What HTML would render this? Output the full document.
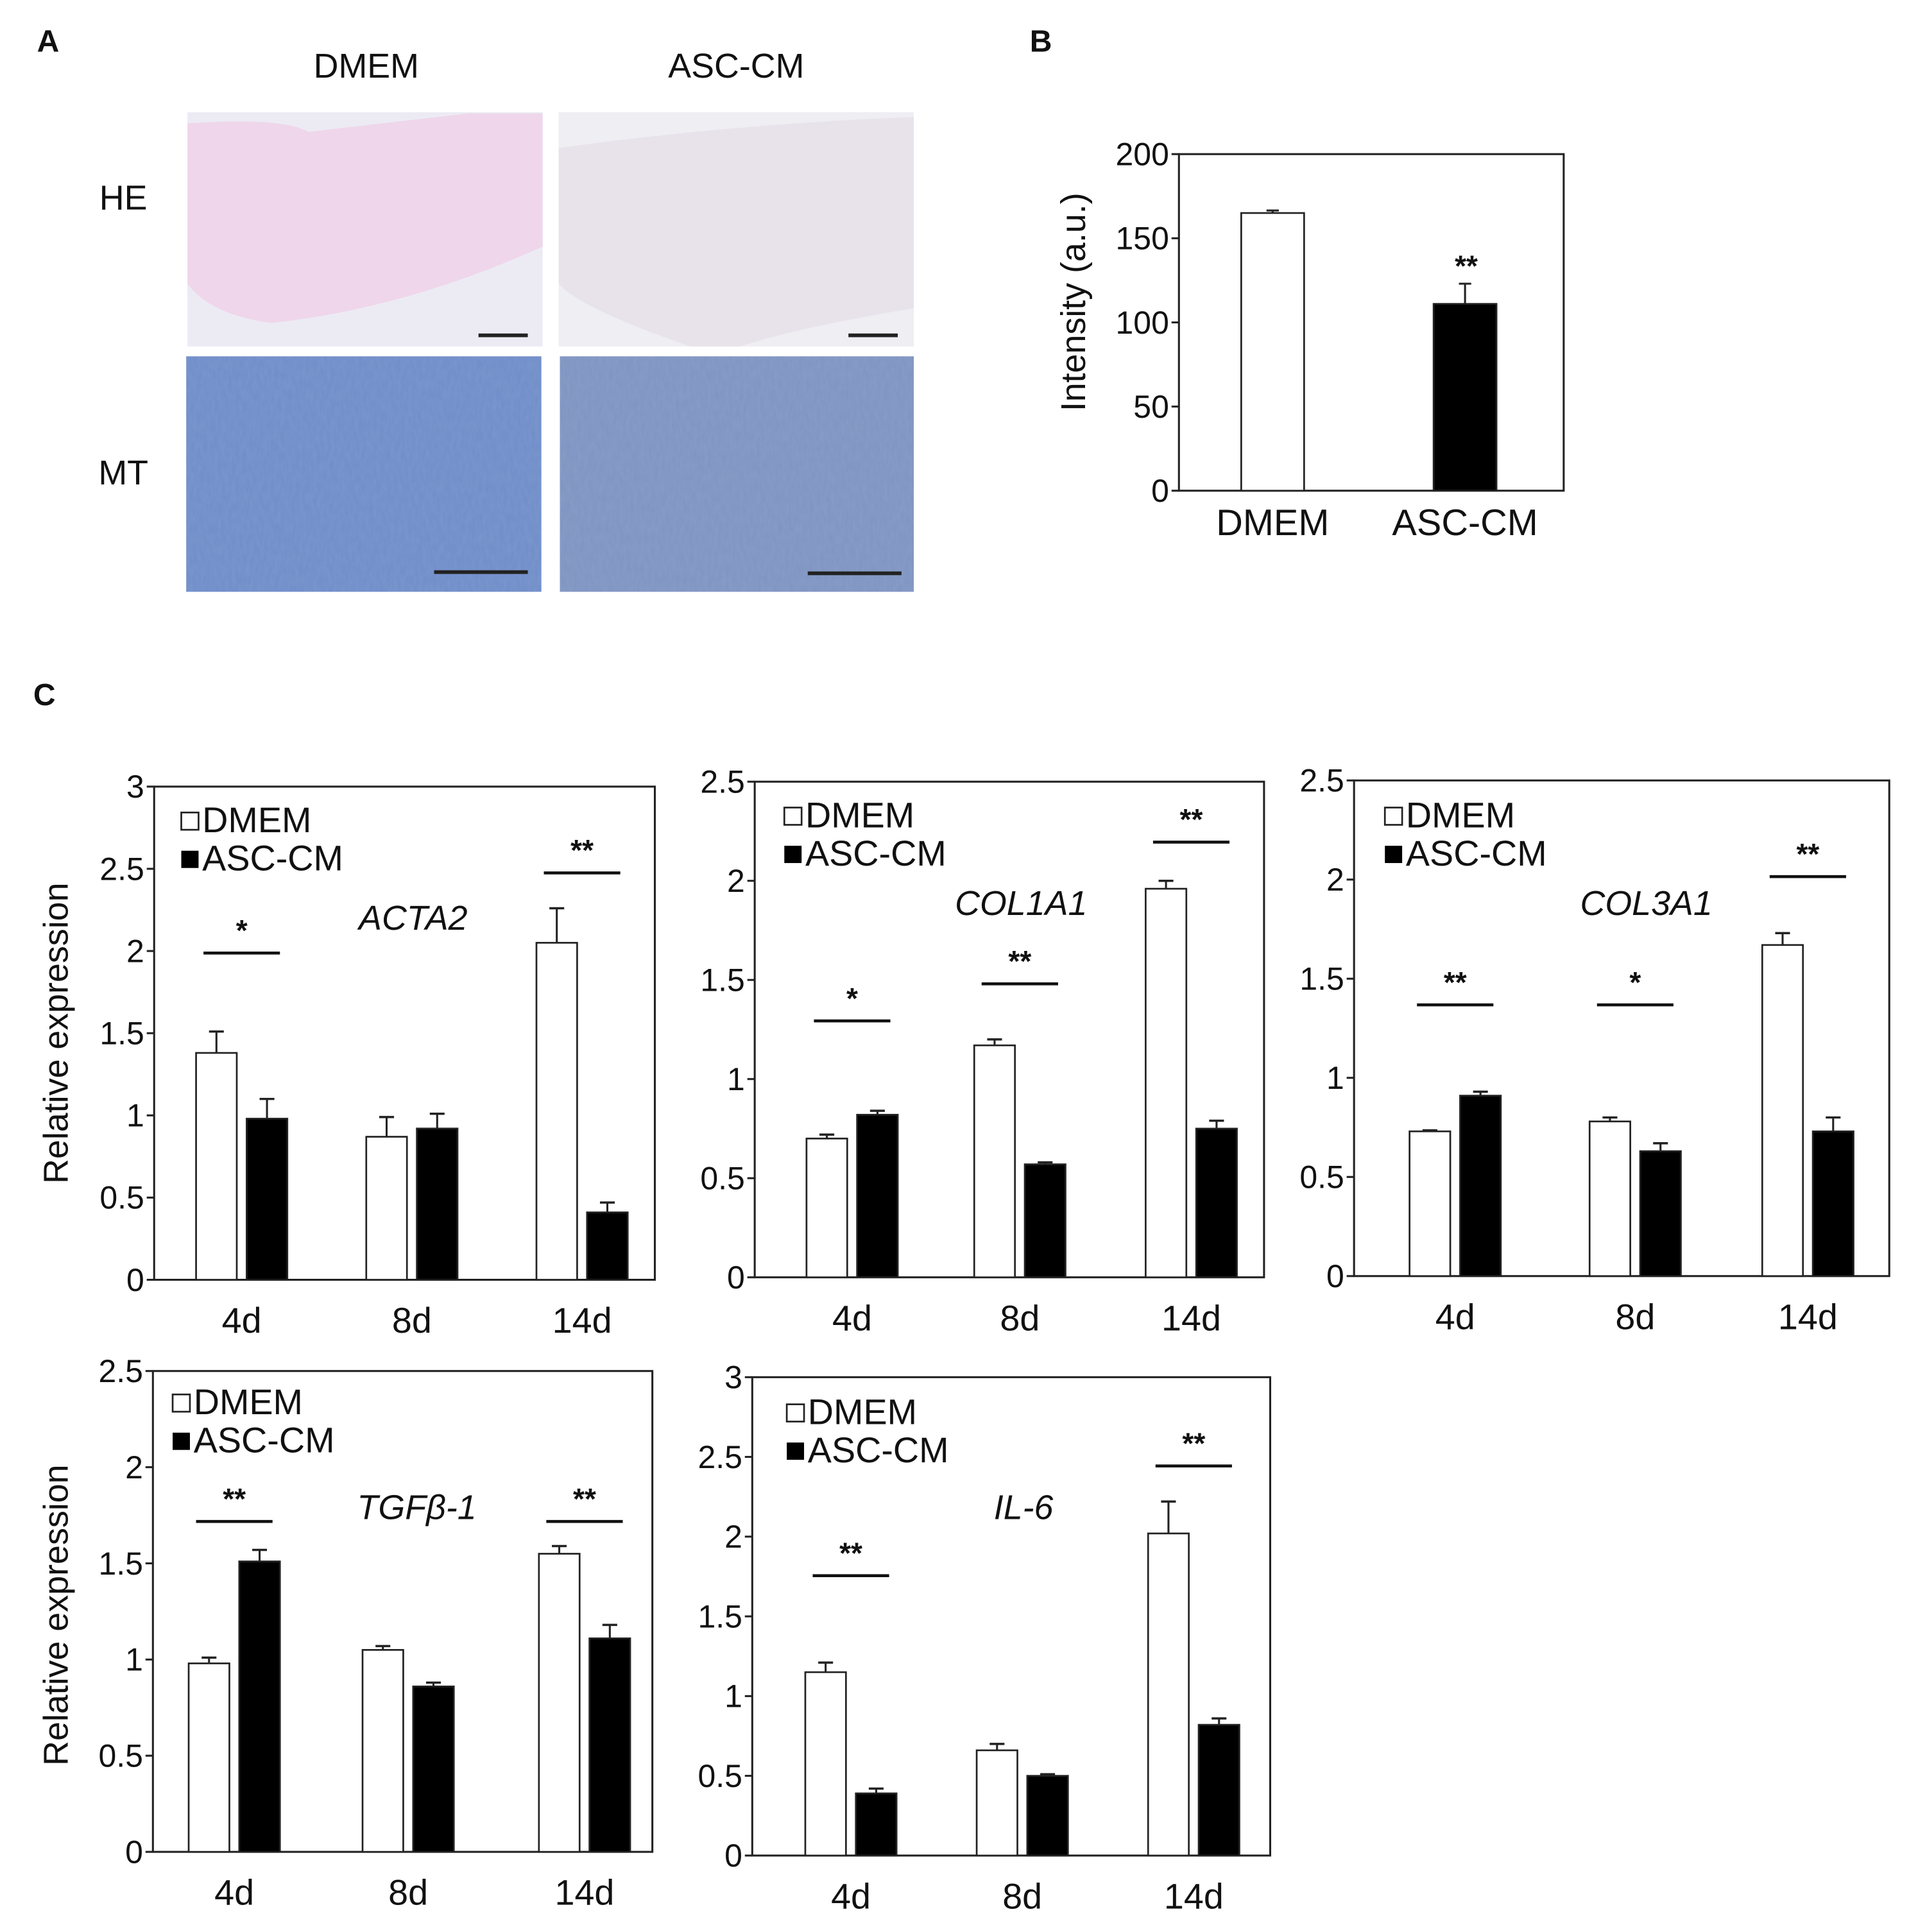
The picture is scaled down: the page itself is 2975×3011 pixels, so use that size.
<!DOCTYPE html>
<html><head><meta charset="utf-8"><style>
html,body{margin:0;padding:0;background:#fff}
svg{display:block}
text{font-family:"Liberation Sans",sans-serif;fill:#111}
</style></head><body>
<svg id="fig" width="2975" height="3011" viewBox="0 0 1548 1567" preserveAspectRatio="none" xmlns="http://www.w3.org/2000/svg">
<defs>
<filter id="tex" x="0" y="0" width="100%" height="100%">
<feTurbulence type="fractalNoise" baseFrequency="0.35 0.12" numOctaves="2" seed="3"/>
<feColorMatrix type="matrix" values="0 0 0 0 0.45  0 0 0 0 0.55  0 0 0 0 0.85  0 0 0 0.5 0"/>
<feComposite in2="SourceGraphic" operator="in"/>
</filter>
</defs>
<g id="panelA">
<text x="30" y="42" font-size="25" font-weight="bold">A</text>
<text x="297" y="63" font-size="28" text-anchor="middle">DMEM</text>
<text x="597" y="63" font-size="28" text-anchor="middle">ASC-CM</text>
<text x="100" y="170" font-size="28" text-anchor="middle">HE</text>
<text x="100" y="393" font-size="28" text-anchor="middle">MT</text>
<g>
<rect x="152" y="91" width="288" height="190" fill="#ecebf4"/>
<path d="M152,100 Q230,95 250,107 L380,92 L440,92 L440,200 Q330,250 220,262 Q170,255 152,230 Z" fill="#efd6ea"/>
</g>
<g>
<rect x="453" y="91" width="288" height="190" fill="#eeeef3"/>
<path d="M453,120 Q600,100 741,95 L741,250 Q650,265 600,281 L560,281 Q470,250 453,230 Z" fill="#e8e3ea"/>
</g>
<rect x="151" y="289" width="288" height="191" fill="#6f8dc8"/>
<rect x="151" y="289" width="288" height="191" fill="#fff" filter="url(#tex)" opacity="0.35"/>
<rect x="454" y="289" width="287" height="191" fill="#7f94c0"/>
<rect x="454" y="289" width="287" height="191" fill="#fff" filter="url(#tex)" opacity="0.35"/>
<g stroke="#222" stroke-width="3">
<line x1="388" y1="272" x2="428" y2="272"/>
<line x1="688" y1="272" x2="728" y2="272"/>
<line x1="352" y1="464" x2="428" y2="464"/>
<line x1="655" y1="465" x2="731" y2="465"/>
</g>
</g>
<text x="835" y="42" font-size="25" font-weight="bold">B</text>
<text x="27" y="572" font-size="25" font-weight="bold">C</text>
<g id="charts"></g>
</svg>
<script>
// Panel B data
const bCategories = ["DMEM", "ASC-CM"];
const bValues = [165, 111];
const bErrors = [1.5, 12];
const bTicks = [0, 50, 100, 150, 200];

// Panel C data
const cGroups = ["4d", "8d", "14d"];
const acta2Dmem = [1.38, 0.87, 2.05];
const acta2DmemErr = [0.13, 0.12, 0.21];
const acta2Asc = [0.98, 0.92, 0.41];
const acta2AscErr = [0.12, 0.09, 0.06];
const col1a1Dmem = [0.70, 1.17, 1.96];
const col1a1DmemErr = [0.02, 0.03, 0.04];
const col1a1Asc = [0.82, 0.57, 0.75];
const col1a1AscErr = [0.02, 0.01, 0.04];
const col3a1Dmem = [0.73, 0.78, 1.67];
const col3a1DmemErr = [0.005, 0.02, 0.06];
const col3a1Asc = [0.91, 0.63, 0.73];
const col3a1AscErr = [0.02, 0.04, 0.07];
const tgfDmem = [0.98, 1.05, 1.55];
const tgfDmemErr = [0.03, 0.02, 0.04];
const tgfAsc = [1.51, 0.86, 1.11];
const tgfAscErr = [0.06, 0.02, 0.07];
const il6Dmem = [1.15, 0.66, 2.02];
const il6DmemErr = [0.06, 0.04, 0.20];
const il6Asc = [0.39, 0.50, 0.82];
const il6AscErr = [0.03, 0.01, 0.04];
const ticks3 = ["0", "0.5", "1", "1.5", "2", "2.5", "3"];
const ticks25 = ["0", "0.5", "1", "1.5", "2", "2.5"];
const acta2Sig = ["*", "", "**"];
const col1a1Sig = ["*", "**", "**"];
const col3a1Sig = ["**", "*", "**"];
const tgfSig = ["**", "", "**"];
const il6Sig = ["**", "", "**"];

const NS = "http://www.w3.org/2000/svg";
const root = document.getElementById("charts");
function mk(tag, attrs, parent, txt) {
  const e = document.createElementNS(NS, tag);
  for (const k in attrs) e.setAttribute(k, attrs[k]);
  if (txt !== undefined) e.textContent = txt;
  (parent || root).appendChild(e);
  return e;
}

// Panel B
(function () {
  const g = mk("g", {});
  
  
  const L = 956, R = 1268, T = 125, B = 398, ymax = 200;
  const y = v => B - (v / ymax) * (B - T);
  const cx = [1032, 1188], bw = 51;
  const frame = mk("rect", { x: L, y: T, width: R - L, height: B - T, fill: "none", stroke: "#222", "stroke-width": 1.6 }, g);
  
  
  bTicks.forEach(t => {
    mk("line", { x1: L - 6, x2: L, y1: y(t), y2: y(t), stroke: "#222", "stroke-width": 1.6 }, g);
    const tl = mk("text", { x: L - 8, y: y(t) + 9, "font-size": 26, "text-anchor": "end" }, g, String(t));
    
    
  });
  bCategories.forEach((c, i) => {
    const top = y(bValues[i] + bErrors[i]);
    mk("line", { x1: cx[i], x2: cx[i], y1: y(bValues[i]), y2: top, stroke: "#222", "stroke-width": 1.6 }, g);
    mk("line", { x1: cx[i] - 5, x2: cx[i] + 5, y1: top, y2: top, stroke: "#222", "stroke-width": 1.6 }, g);
    const bar = mk("rect", { x: cx[i] - bw / 2, y: y(bValues[i]), width: bw, height: B - y(bValues[i]), fill: i ? "#000" : "#fff", stroke: "#222", "stroke-width": 1.4 }, g);
    
    
    const xl = mk("text", { x: cx[i], y: 434, "font-size": 30, "text-anchor": "middle" }, g, c);
    
    
  });
  const s = mk("text", { x: 1189, y: 224, "font-size": 24, "font-weight": "bold", "text-anchor": "middle" }, g, "**");
  
  
  const yt = mk("text", { x: 0, y: 0, "font-size": 28, "text-anchor": "middle", transform: "translate(880,245) rotate(-90)" }, g, "Intensity (a.u.)");
  
  
})();

function chart(cfg) {
  const g = mk("g", {});
  
  
  const { L, R, T, B, ymax } = cfg;
  const y = v => B - (v / ymax) * (B - T);
  const bw = 33, gap = 8;
  const frame = mk("rect", { x: L, y: T, width: R - L, height: B - T, fill: "none", stroke: "#222", "stroke-width": 1.6 }, g);
  
  
  cfg.ticks.forEach(t => {
    const v = parseFloat(t);
    mk("line", { x1: L - 6, x2: L, y1: y(v), y2: y(v), stroke: "#222", "stroke-width": 1.6 }, g);
    const tl = mk("text", { x: L - 8, y: y(v) + 9, "font-size": 26, "text-anchor": "end" }, g, t);
    
    
  });
  function bar(cx, v, e, fill, nm) {
    const top = y(v + e);
    mk("line", { x1: cx, x2: cx, y1: y(v), y2: top, stroke: "#222", "stroke-width": 1.6 }, g);
    mk("line", { x1: cx - 6, x2: cx + 6, y1: top, y2: top, stroke: "#222", "stroke-width": 1.8 }, g);
    const r = mk("rect", { x: cx - bw / 2, y: y(v), width: bw, height: B - y(v), fill: fill, stroke: "#222", "stroke-width": 1.4 }, g);
    
    
  }
  cGroups.forEach((grp, i) => {
    const c = cfg.cx[i];
    const c1 = c - gap / 2 - bw / 2, c2 = c + gap / 2 + bw / 2;
    bar(c1, cfg.d[i], cfg.de[i], "#fff", 'bar-dmem-' + grp);
    bar(c2, cfg.a[i], cfg.ae[i], "#000", 'bar-asc-cm-' + grp);
    const xl = mk("text", { x: c, y: B + 43, "font-size": 29, "text-anchor": "middle" }, g, grp);
    
    
    if (cfg.sig[i]) {
      const ly = cfg.sigY[i];
      mk("line", { x1: c - 31, x2: c + 31, y1: ly, y2: ly, stroke: "#111", "stroke-width": 2.4 }, g);
      const st = mk("text", { x: c, y: ly - 10, "font-size": 24, "font-weight": "bold", "text-anchor": "middle" }, g, cfg.sig[i]);
      
      
    }
  });
  const lx = cfg.legX, ly = cfg.legY;
  mk("rect", { x: lx, y: ly - 16, width: 14, height: 14, fill: "#fff", stroke: "#222", "stroke-width": 1.4 }, g);
  const l1 = mk("text", { x: lx + 17, y: ly, "font-size": 29 }, g, "DMEM");
  
  
  mk("rect", { x: lx, y: ly + 15, width: 14, height: 14, fill: "#000" }, g);
  const l2 = mk("text", { x: lx + 17, y: ly + 31, "font-size": 29 }, g, "ASC-CM");
  
  
  const gl = mk("text", { x: cfg.geneX, y: cfg.geneY, "font-size": 28, "font-style": "italic", "text-anchor": "middle" }, g, cfg.gene);
  
  
  if (cfg.ytitle) {
    const yt = mk("text", { x: 0, y: 0, "font-size": 28, "text-anchor": "middle", transform: "translate(" + cfg.ytitle[0] + "," + cfg.ytitle[1] + ") rotate(-90)" }, g, "Relative expression");
    
    
  }
}

chart({ name: "acta2", gene: "ACTA2", L: 125, R: 531, T: 638, B: 1038, ymax: 3, ticks: ticks3, cx: [196, 334, 472],
  d: acta2Dmem, de: acta2DmemErr, a: acta2Asc, ae: acta2AscErr, sig: acta2Sig, sigY: [773, 0, 708],
  legX: 147, legY: 675, geneX: 335, geneY: 754, ytitle: [55, 838] });
chart({ name: "col1a1", gene: "COL1A1", L: 612, R: 1025, T: 634, B: 1036, ymax: 2.5, ticks: ticks25, cx: [691, 827, 966],
  d: col1a1Dmem, de: col1a1DmemErr, a: col1a1Asc, ae: col1a1AscErr, sig: col1a1Sig, sigY: [828, 798, 683],
  legX: 636, legY: 671, geneX: 828, geneY: 742 });
chart({ name: "col3a1", gene: "COL3A1", L: 1098, R: 1532, T: 633, B: 1035, ymax: 2.5, ticks: ticks25, cx: [1180, 1326, 1466],
  d: col3a1Dmem, de: col3a1DmemErr, a: col3a1Asc, ae: col3a1AscErr, sig: col3a1Sig, sigY: [815, 815, 711],
  legX: 1123, legY: 671, geneX: 1335, geneY: 742 });
chart({ name: "tgfb1", gene: "TGFβ-1", L: 124, R: 529, T: 1112, B: 1502, ymax: 2.5, ticks: ticks25, cx: [190, 331, 474],
  d: tgfDmem, de: tgfDmemErr, a: tgfAsc, ae: tgfAscErr, sig: tgfSig, sigY: [1234, 0, 1234],
  legX: 140, legY: 1147, geneX: 338, geneY: 1232, ytitle: [55, 1310] });
chart({ name: "il6", gene: "IL-6", L: 610, R: 1030, T: 1117, B: 1505, ymax: 3, ticks: ticks3, cx: [690, 829, 968],
  d: il6Dmem, de: il6DmemErr, a: il6Asc, ae: il6AscErr, sig: il6Sig, sigY: [1278, 0, 1189],
  legX: 638, legY: 1155, geneX: 830, geneY: 1232 });
</script>
</body></html>
